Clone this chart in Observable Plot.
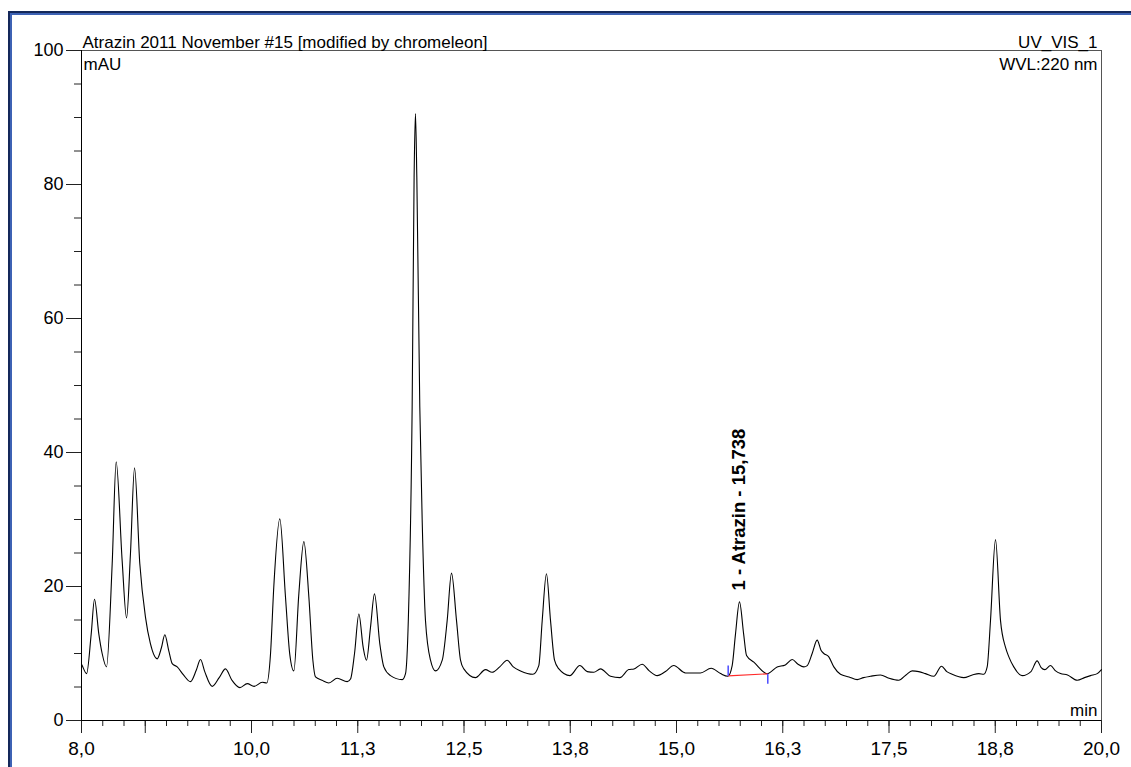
<!DOCTYPE html>
<html><head><meta charset="utf-8">
<script src="https://cdn.jsdelivr.net/npm/d3@7"></script>
<script src="https://cdn.jsdelivr.net/npm/@observablehq/plot@0.6"></script>
<style>
html,body{margin:0;padding:0;background:#fff;}
#wrap{position:relative;width:1131px;height:767px;overflow:hidden;background:#fff;}
#chart{position:absolute;left:0;top:0;}
#frame1{position:absolute;left:8px;top:11px;width:2000px;height:2000px;border-left:2px solid #14285a;border-top:2px solid #14285a;pointer-events:none;}
#frame2{position:absolute;left:10px;top:13px;width:2000px;height:2000px;border-left:2px solid #3d62b4;border-top:2px solid #3d62b4;pointer-events:none;}
</style></head><body>
<div id="wrap"><div id="chart"></div><div id="frame1"></div><div id="frame2"></div></div>
<script>
// retention time (min)
const time = [8.00,8.008,8.06,8.114,8.153,8.204,8.243,8.294,8.361,8.408,8.478,8.53,8.576,8.624,8.686,8.753,8.81,8.89,
8.941,8.98,9.027,9.067,9.126,9.2,9.282,9.35,9.4,9.45,9.537,9.62,9.694,9.77,9.863,9.95,10.03,10.126,10.18,
10.224,10.262,10.333,10.4,10.45,10.498,10.557,10.616,10.675,10.722,10.753,10.83,10.91,11.008,11.126,11.165,
11.212,11.263,11.314,11.353,11.4,11.447,11.51,11.557,11.635,11.773,11.812,11.845,11.89,11.913,11.929,11.945,
11.98,12.008,12.047,12.106,12.165,12.244,12.302,12.353,12.412,12.459,12.498,12.635,12.753,12.83,12.92,13.008,
13.08,13.165,13.31,13.38,13.42,13.47,13.518,13.565,13.616,13.745,13.863,13.95,14.027,14.106,14.224,14.333,
14.439,14.5,14.596,14.68,14.773,14.87,14.968,15.106,15.282,15.408,15.518,15.604,15.655,15.694,15.741,15.79,
15.824,15.91,16.067,16.184,16.28,16.361,16.43,16.498,16.538,16.596,16.655,16.7,16.733,16.792,16.851,16.929,
17.03,17.126,17.2,17.282,17.4,17.5,17.615,17.7,17.773,17.85,17.929,18.027,18.118,18.18,18.243,18.38,18.48,
18.557,18.615,18.655,18.694,18.753,18.812,18.871,18.91,18.968,19.067,19.17,19.243,19.29,19.333,19.4,19.46,
19.518,19.6,19.714,19.8,19.871,19.95,20.0];
// absorbance (mAU)
const mAU = [8.4,8.2,7.0,12.9,18.1,12.9,10.0,8.0,23.4,38.6,23.9,15.3,24.9,37.7,23.4,15.4,11.5,9.2,
10.9,12.8,10.4,8.5,8.0,6.8,5.8,7.5,9.1,7.3,5.1,6.4,7.7,6.0,4.9,5.5,5.1,5.7,5.6,
10.0,19.9,30.1,18.4,9.9,7.4,18.9,26.7,18.4,9.0,6.5,6.0,5.6,6.3,5.8,6.2,
10.0,15.9,10.9,9.0,13.9,18.9,11.4,8.0,6.7,6.1,7.0,15.0,46.8,81.1,90.6,81.1,
46.8,29.9,14.9,9.0,7.4,9.0,14.9,22.0,14.9,9.0,7.7,6.4,7.6,7.2,8.0,9.0,
8.0,7.4,6.9,8.2,14.9,21.9,14.9,9.0,7.7,6.7,8.2,7.3,7.2,7.7,6.6,6.4,
7.6,7.7,8.4,7.4,6.7,7.3,8.2,7.1,7.1,7.8,7.0,6.6,8.2,12.9,17.7,12.9,
9.7,8.7,7.0,8.0,8.3,9.1,8.4,8.0,8.2,10.0,12.0,10.5,10.0,9.5,8.0,6.9,
6.5,6.1,6.4,6.6,6.8,6.3,6.0,6.8,7.4,7.3,7.0,6.6,8.1,7.3,6.9,6.4,6.8,
7.0,6.9,8.0,14.9,27.0,14.9,10.9,9.5,8.0,6.7,7.3,8.9,7.9,7.6,8.2,7.4,
7.0,6.8,6.0,6.4,6.7,7.0,7.6];

const xMajorTicks = [8.0,8.75,10.0,11.25,12.5,13.75,15.0,16.25,17.5,18.75,20.0];
const xTickLabels = ["8,0","","10,0","11,3","12,5","13,8","15,0","16,3","17,5","18,8","20,0"];
const xMinorTicks = d3.range(32,81).map(i => i/4);
const yMajorTicks = [0,20,40,60,80,100];
const yMinorTicks = d3.range(0,101,5);

const titleLeft = ["Atrazin 2011 November #15 [modified by chromeleon]"];
const titleRight = ["UV_VIS_1"];
const yUnit = ["mAU"];
const wavelength = ["WVL:220 nm"];
const xUnit = ["min"];

const peakNames = ["1 - Atrazin - 15,738"];
const peakTimes = [15.738];
const peakLabelY = [19.4];
const baseStartT = [15.608], baseStartV = [6.67];
const baseEndT = [16.074], baseEndV = [6.97];
const delimT = [15.608, 16.074], delimV1 = [6.67, 6.97], delimV2 = [8.2, 5.5];

const data = time.map((t, i) => ({t, v: mAU[i]}));
const font = "'Liberation Sans', Arial, sans-serif";

const chart = Plot.plot({
  width: 1131, height: 767,
  marginTop: 50, marginLeft: 81, marginRight: 30, marginBottom: 47,
  style: {fontFamily: font, fontSize: "19px", color: "#000", background: "transparent", overflow: "visible"},
  x: {domain: [8, 20]},
  y: {domain: [0, 100]},
  marks: [
    Plot.ruleY([100], {stroke: "#555", strokeWidth: 1}),
    Plot.ruleX([20], {stroke: "#555", strokeWidth: 1}),
    Plot.axisX({ticks: xMinorTicks, tickSize: 6, text: null, label: null, stroke: "#222"}),
    Plot.axisX({ticks: xMajorTicks, tickSize: 13, tickPadding: 8, label: null, stroke: "#222",
      tickFormat: d => xTickLabels[xMajorTicks.indexOf(d)]}),
    Plot.axisY({ticks: yMinorTicks, tickSize: 7, text: null, label: null, stroke: "#222"}),
    Plot.axisY({ticks: yMajorTicks, tickSize: 15, tickPadding: 3, label: null, stroke: "#222", fontSize: 18,
      tickFormat: d => String(d)}),
    Plot.ruleX([8], {stroke: "#000"}),
    Plot.ruleY([0], {stroke: "#000"}),
    Plot.line(data, {x: "t", y: "v", curve: "monotone-x", stroke: "#000", strokeWidth: 1.1}),
    Plot.link(baseStartT, {x1: baseStartT, y1: baseStartV, x2: baseEndT, y2: baseEndV, stroke: "#ff2a2a", strokeWidth: 1.2}),
    Plot.link(delimT, {x1: delimT, y1: delimV1, x2: delimT, y2: delimV2, stroke: "#4b4bff", strokeWidth: 1.5}),
    Plot.text(peakNames, {x: peakTimes, y: peakLabelY, text: d => d, rotate: -90, textAnchor: "start",
      lineAnchor: "middle", fontWeight: "bold", fontSize: 18.5}),
    Plot.text(titleLeft, {text: d => d, frameAnchor: "top-left", textAnchor: "start", lineAnchor: "bottom", dx: 1, dy: -3, fontSize: 17}),
    Plot.text(titleRight, {text: d => d, frameAnchor: "top-right", textAnchor: "end", lineAnchor: "bottom", dx: -4, dy: -3, fontSize: 17}),
    Plot.text(yUnit, {text: d => d, frameAnchor: "top-left", textAnchor: "start", lineAnchor: "top", dx: 2, dy: 7, fontSize: 17}),
    Plot.text(wavelength, {text: d => d, frameAnchor: "top-right", textAnchor: "end", lineAnchor: "top", dx: -4, dy: 7, fontSize: 17}),
    Plot.text(xUnit, {text: d => d, frameAnchor: "bottom-right", textAnchor: "end", lineAnchor: "bottom", dx: -4, dy: -5, fontSize: 17})
  ]
});
document.getElementById("chart").appendChild(chart);
</script>
</body></html>
